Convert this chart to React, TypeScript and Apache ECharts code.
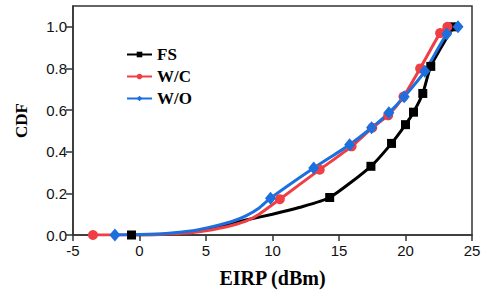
import React, { useEffect, useRef } from "react";
import * as echarts from "echarts";

// x-axis ticks and y-axis ticks
const xTicks = [-5, 0, 5, 10, 15, 20, 25];
const yTicks = [0, 0.2, 0.4, 0.6, 0.8, 1.0];

// FS series (EIRP dBm, CDF); marked = shows a marker
const fsX = [-0.6, 2, 4, 5, 6, 7, 8, 10, 12, 14.3, 17.4, 18.95, 20.0, 20.6, 21.3, 21.9, 23.6];
const fsY = [0.0, 0.004, 0.015, 0.027, 0.04, 0.055, 0.072, 0.1, 0.132, 0.18, 0.33, 0.44, 0.53, 0.59, 0.68, 0.81, 1.0];
const fsMarked = [1, 0, 0, 0, 0, 0, 0, 0, 0, 1, 1, 1, 1, 1, 1, 1, 1];

// W/C series
const wcX = [-3.5, -1, 0, 2, 4, 5, 6, 7, 8, 9, 10.55, 13.55, 15.95, 17.5, 18.7, 19.85, 21.1, 22.6, 23.15];
const wcY = [0, 0, 0.001, 0.004, 0.012, 0.02, 0.032, 0.047, 0.067, 0.1, 0.172, 0.314, 0.426, 0.515, 0.575, 0.665, 0.8, 0.97, 1.0];
const wcMarked = [1, 0, 0, 0, 0, 0, 0, 0, 0, 0, 1, 1, 1, 1, 1, 1, 1, 1, 1];

// W/O series
const woX = [-1.85, 0, 2, 4, 5, 6, 7, 8, 9, 9.85, 13.1, 15.8, 17.45, 18.75, 19.9, 21.45, 23.1, 23.95];
const woY = [0, 0.002, 0.007, 0.02, 0.033, 0.048, 0.066, 0.092, 0.13, 0.177, 0.322, 0.434, 0.515, 0.587, 0.664, 0.786, 0.965, 1.0];
const woMarked = [1, 0, 0, 0, 0, 0, 0, 0, 0, 1, 1, 1, 1, 1, 1, 1, 1, 1];

const seriesNames = ["FS", "W/C", "W/O"];

function build(xs: number[], ys: number[], marked: number[]) {
  return xs.map((x, i) =>
    marked[i] ? [x, ys[i]] : { value: [x, ys[i]], symbol: "none" }
  );
}

export default function App() {
  const ref = useRef<HTMLDivElement>(null);
  useEffect(() => {
    if (!ref.current) return;
    document.body.style.margin = "0";
    const chart = echarts.init(ref.current, undefined, { renderer: "svg" });
    const serif = "'Liberation Serif', 'Times New Roman', serif";
    const sans = "'Liberation Sans', Arial, sans-serif";
    chart.setOption({
      animation: false,
      grid: {
        left: 73,
        right: 13,
        top: 6,
        bottom: 66,
        show: true,
        borderColor: "#333",
        borderWidth: 1.5,
        backgroundColor: "transparent",
      },
      legend: {
        orient: "vertical",
        left: 121,
        top: 41,
        itemWidth: 25,
        itemHeight: 7,
        itemGap: 5,
        data: seriesNames,
        textStyle: { fontFamily: serif, fontWeight: "bold", fontSize: 17, color: "#000" },
      },
      xAxis: {
        type: "value",
        min: -5,
        max: 25,
        interval: 5,
        name: "EIRP (dBm)",
        nameLocation: "middle",
        nameGap: 33,
        nameTextStyle: { fontFamily: serif, fontWeight: "bold", fontSize: 20, color: "#000" },
        axisLine: { show: true, onZero: false, lineStyle: { color: "#333", width: 1.5 } },
        axisTick: { show: true, length: 6, lineStyle: { color: "#333", width: 1.5 }, customValues: xTicks },
        axisLabel: { fontFamily: sans, fontSize: 15, color: "#111", margin: 8, customValues: xTicks },
        splitLine: { show: false },
      },
      yAxis: {
        type: "value",
        min: 0,
        max: 1.1,
        name: "CDF",
        nameLocation: "middle",
        nameGap: 43,
        nameRotate: 90,
        nameTextStyle: { fontFamily: serif, fontWeight: "bold", fontSize: 17, color: "#000" },
        axisLine: { show: true, onZero: false, lineStyle: { color: "#333", width: 1.5 } },
        axisTick: { show: true, length: 7, lineStyle: { color: "#333", width: 1.5 }, customValues: yTicks },
        axisLabel: {
          fontFamily: sans,
          fontSize: 15,
          color: "#111",
          margin: 6,
          customValues: yTicks,
          formatter: (v: number) => v.toFixed(1),
        },
        splitLine: { show: false },
      },
      series: [
        {
          name: seriesNames[0],
          type: "line",
          data: build(fsX, fsY, fsMarked),
          symbol: "rect",
          symbolSize: 9,
          lineStyle: { color: "#000", width: 3 },
          itemStyle: { color: "#000" },
          color: "#000",
          smooth: 0.2,
        },
        {
          name: seriesNames[1],
          type: "line",
          data: build(wcX, wcY, wcMarked),
          symbol: "circle",
          symbolSize: 10,
          lineStyle: { color: "#EF3F44", width: 3 },
          itemStyle: { color: "#EF3F44" },
          color: "#EF3F44",
          smooth: 0.2,
        },
        {
          name: seriesNames[2],
          type: "line",
          data: build(woX, woY, woMarked),
          symbol: "diamond",
          symbolSize: [11, 13],
          lineStyle: { color: "#1C6FDE", width: 3 },
          itemStyle: { color: "#1C6FDE" },
          color: "#1C6FDE",
          smooth: 0.2,
        },
      ],
    });
    return () => chart.dispose();
  }, []);
  return <div ref={ref} style={{ width: 485, height: 301 }} />;
}
